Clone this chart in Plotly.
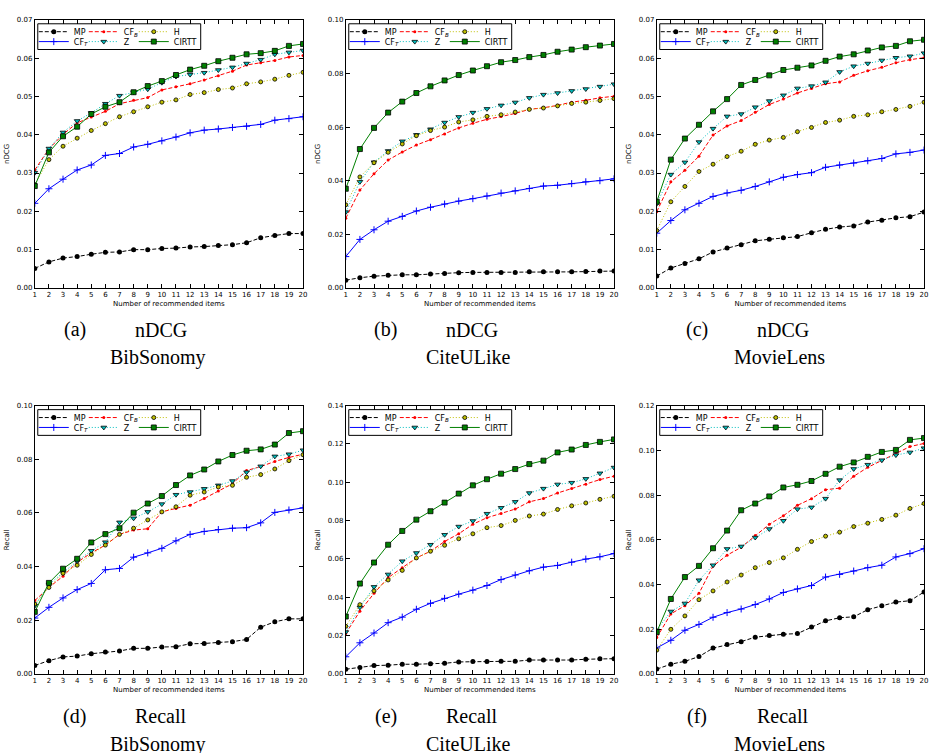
import plotly.graph_objects as go

X = list(range(1, 21))
SERIES = ["MP", "CF_T", "CF_B", "Z", "H", "CIRTT"]

# (a) nDCG BibSonomy
MP_a = [0.0051,0.0068,0.0078,0.0082,0.0088,0.0093,0.0094,0.0100,0.0100,0.0103,0.0104,0.0107,0.0108,0.0111,0.0113,0.0118,0.0131,0.0137,0.0142,0.0142]
CFT_a = [0.0221,0.0259,0.0284,0.0308,0.0321,0.0346,0.0351,0.0368,0.0375,0.0384,0.0394,0.0405,0.0412,0.0415,0.0419,0.0422,0.0427,0.0438,0.0442,0.0447]
CFB_a = [0.0308,0.0363,0.0401,0.0431,0.0446,0.0461,0.0481,0.0490,0.0497,0.0517,0.0525,0.0533,0.0543,0.0554,0.0566,0.0582,0.0588,0.0594,0.0603,0.0607]
Z_a = [0.0301,0.0364,0.0406,0.0436,0.0457,0.0481,0.0502,0.0511,0.0519,0.0536,0.0552,0.0557,0.0562,0.0569,0.0576,0.0586,0.0596,0.0610,0.0615,0.0620]
H_a = [0.0270,0.0335,0.0370,0.0391,0.0411,0.0429,0.0447,0.0460,0.0473,0.0485,0.0491,0.0505,0.0510,0.0518,0.0522,0.0533,0.0538,0.0545,0.0555,0.0563]
CIRTT_a = [0.0266,0.0354,0.0396,0.0421,0.0454,0.0473,0.0485,0.0511,0.0527,0.0540,0.0556,0.0570,0.0580,0.0592,0.0601,0.0610,0.0613,0.0619,0.0632,0.0637]

# (b) nDCG CiteULike
MP_b = [0.0029,0.0038,0.0044,0.0047,0.0049,0.0049,0.0052,0.0054,0.0057,0.0058,0.0058,0.0058,0.0058,0.0060,0.0060,0.0060,0.0060,0.0061,0.0063,0.0063]
CFT_b = [0.0117,0.0181,0.0217,0.0249,0.0267,0.0287,0.0301,0.0313,0.0324,0.0333,0.0343,0.0354,0.0362,0.0371,0.0380,0.0383,0.0389,0.0396,0.0400,0.0407]
CFB_b = [0.0260,0.0365,0.0426,0.0477,0.0507,0.0533,0.0553,0.0574,0.0597,0.0614,0.0629,0.0639,0.0651,0.0666,0.0672,0.0681,0.0693,0.0700,0.0709,0.0715]
Z_b = [0.0283,0.0396,0.0469,0.0511,0.0547,0.0571,0.0592,0.0617,0.0638,0.0654,0.0668,0.0681,0.0692,0.0709,0.0721,0.0727,0.0735,0.0742,0.0751,0.0760]
H_b = [0.0310,0.0414,0.0467,0.0506,0.0537,0.0568,0.0587,0.0600,0.0619,0.0627,0.0640,0.0646,0.0656,0.0666,0.0671,0.0679,0.0688,0.0693,0.0699,0.0706]
CIRTT_b = [0.0370,0.0518,0.0597,0.0654,0.0695,0.0727,0.0752,0.0774,0.0794,0.0811,0.0827,0.0842,0.0850,0.0861,0.0869,0.0881,0.0889,0.0898,0.0904,0.0910]

# (c) nDCG MovieLens
MP_c = [0.0031,0.0052,0.0064,0.0076,0.0094,0.0104,0.0113,0.0123,0.0127,0.0131,0.0134,0.0144,0.0153,0.0159,0.0162,0.0172,0.0177,0.0183,0.0186,0.0198]
CFT_c = [0.0143,0.0176,0.0204,0.0221,0.0239,0.0248,0.0255,0.0265,0.0277,0.0289,0.0296,0.0301,0.0315,0.0321,0.0326,0.0332,0.0338,0.0350,0.0354,0.0360]
CFB_c = [0.0199,0.0277,0.0307,0.0344,0.0399,0.0423,0.0437,0.0459,0.0479,0.0493,0.0509,0.0521,0.0533,0.0538,0.0555,0.0567,0.0576,0.0588,0.0596,0.0601]
Z_c = [0.0220,0.0296,0.0328,0.0381,0.0416,0.0448,0.0454,0.0472,0.0488,0.0503,0.0521,0.0527,0.0537,0.0564,0.0579,0.0586,0.0594,0.0601,0.0605,0.0613]
H_c = [0.0150,0.0225,0.0265,0.0304,0.0323,0.0343,0.0357,0.0375,0.0386,0.0393,0.0408,0.0419,0.0432,0.0438,0.0448,0.0452,0.0460,0.0466,0.0474,0.0485]
CIRTT_c = [0.0225,0.0335,0.0390,0.0426,0.0461,0.0493,0.0530,0.0543,0.0555,0.0569,0.0575,0.0581,0.0593,0.0604,0.0610,0.0620,0.0628,0.0632,0.0644,0.0648]

# (d) Recall BibSonomy
MP_d = [0.0031,0.0049,0.0063,0.0066,0.0075,0.0081,0.0085,0.0095,0.0095,0.0100,0.0101,0.0112,0.0113,0.0117,0.0120,0.0128,0.0174,0.0194,0.0205,0.0205]
CFT_d = [0.0208,0.0248,0.0283,0.0314,0.0337,0.0388,0.0393,0.0435,0.0451,0.0468,0.0496,0.0520,0.0531,0.0538,0.0543,0.0545,0.0563,0.0602,0.0611,0.0619]
CFB_d = [0.0273,0.0322,0.0364,0.0416,0.0451,0.0480,0.0520,0.0536,0.0541,0.0604,0.0617,0.0629,0.0654,0.0682,0.0709,0.0758,0.0773,0.0792,0.0807,0.0819]
Z_d = [0.0254,0.0334,0.0377,0.0420,0.0459,0.0491,0.0565,0.0580,0.0604,0.0633,0.0668,0.0678,0.0690,0.0703,0.0719,0.0752,0.0774,0.0811,0.0819,0.0834]
H_d = [0.0260,0.0322,0.0375,0.0405,0.0445,0.0480,0.0520,0.0543,0.0574,0.0604,0.0623,0.0666,0.0678,0.0697,0.0703,0.0733,0.0743,0.0764,0.0795,0.0817]
CIRTT_d = [0.0231,0.0339,0.0392,0.0429,0.0490,0.0521,0.0543,0.0601,0.0635,0.0663,0.0704,0.0740,0.0762,0.0792,0.0816,0.0832,0.0837,0.0855,0.0898,0.0905]

# (e) Recall CiteULike
MP_e = [0.0024,0.0033,0.0043,0.0045,0.0050,0.0050,0.0052,0.0055,0.0062,0.0064,0.0064,0.0065,0.0065,0.0072,0.0072,0.0072,0.0072,0.0076,0.0079,0.0079]
CFT_e = [0.0089,0.0162,0.0213,0.0267,0.0296,0.0337,0.0368,0.0394,0.0416,0.0437,0.0461,0.0492,0.0516,0.0538,0.0557,0.0566,0.0583,0.0599,0.0611,0.0628]
CFB_e = [0.0210,0.0327,0.0420,0.0502,0.0554,0.0605,0.0640,0.0691,0.0731,0.0781,0.0815,0.0837,0.0860,0.0898,0.0915,0.0944,0.0968,0.0990,0.1014,0.1032]
Z_e = [0.0218,0.0347,0.0454,0.0519,0.0588,0.0631,0.0674,0.0726,0.0769,0.0798,0.0836,0.0867,0.0898,0.0944,0.0967,0.0989,0.0998,0.1018,0.1047,0.1077]
H_e = [0.0248,0.0361,0.0433,0.0490,0.0540,0.0605,0.0640,0.0671,0.0705,0.0731,0.0763,0.0774,0.0801,0.0824,0.0834,0.0858,0.0877,0.0892,0.0911,0.0927]
CIRTT_e = [0.0299,0.0471,0.0581,0.0674,0.0746,0.0805,0.0849,0.0894,0.0941,0.0984,0.1016,0.1045,0.1069,0.1095,0.1113,0.1156,0.1171,0.1195,0.1211,0.1224]

# (f) Recall MovieLens
MP_f = [0.0021,0.0043,0.0056,0.0077,0.0115,0.0131,0.0144,0.0164,0.0171,0.0177,0.0180,0.0209,0.0237,0.0251,0.0255,0.0287,0.0305,0.0321,0.0327,0.0366]
CFT_f = [0.0116,0.0150,0.0195,0.0221,0.0253,0.0274,0.0290,0.0310,0.0335,0.0364,0.0380,0.0395,0.0433,0.0445,0.0460,0.0475,0.0486,0.0523,0.0538,0.0560]
CFB_f = [0.0162,0.0268,0.0305,0.0360,0.0482,0.0531,0.0566,0.0619,0.0669,0.0707,0.0754,0.0784,0.0824,0.0831,0.0884,0.0924,0.0954,0.0986,0.1017,0.1031]
Z_f = [0.0195,0.0279,0.0315,0.0419,0.0486,0.0559,0.0570,0.0610,0.0648,0.0685,0.0737,0.0745,0.0784,0.0867,0.0917,0.0936,0.0956,0.0979,0.0991,0.1010]
H_f = [0.0106,0.0199,0.0259,0.0332,0.0371,0.0411,0.0442,0.0475,0.0498,0.0519,0.0557,0.0592,0.0616,0.0634,0.0659,0.0674,0.0691,0.0710,0.0740,0.0762]
CIRTT_f = [0.0187,0.0335,0.0433,0.0483,0.0562,0.0641,0.0732,0.0762,0.0794,0.0834,0.0846,0.0863,0.0895,0.0927,0.0946,0.0971,0.0993,0.1002,0.1047,0.1055]

PANELS = [
    dict(data=[MP_a, CFT_a, CFB_a, Z_a, H_a, CIRTT_a], ymax=0.07, dtick=0.01, ylab="nDCG", tag="(a)", metric="nDCG", ds="BibSonomy"),
    dict(data=[MP_b, CFT_b, CFB_b, Z_b, H_b, CIRTT_b], ymax=0.10, dtick=0.02, ylab="nDCG", tag="(b)", metric="nDCG", ds="CiteULike"),
    dict(data=[MP_c, CFT_c, CFB_c, Z_c, H_c, CIRTT_c], ymax=0.07, dtick=0.01, ylab="nDCG", tag="(c)", metric="nDCG", ds="MovieLens"),
    dict(data=[MP_d, CFT_d, CFB_d, Z_d, H_d, CIRTT_d], ymax=0.10, dtick=0.02, ylab="Recall", tag="(d)", metric="Recall", ds="BibSonomy"),
    dict(data=[MP_e, CFT_e, CFB_e, Z_e, H_e, CIRTT_e], ymax=0.14, dtick=0.02, ylab="Recall", tag="(e)", metric="Recall", ds="CiteULike"),
    dict(data=[MP_f, CFT_f, CFB_f, Z_f, H_f, CIRTT_f], ymax=0.12, dtick=0.02, ylab="Recall", tag="(f)", metric="Recall", ds="MovieLens"),
]

LABELS = ["MP", "CF<sub><i>T</i></sub>", "CF<sub><i>B</i></sub>", "Z", "H", "CIRTT"]
ROW_OF = [0, 1, 0, 1, 0, 1]      # legend row of each series
LASTCOL = [False, False, False, False, True, True]

STYLES = [
    dict(line=dict(color="black", width=1, dash="4px,2px"),
         marker=dict(symbol="circle", size=5, color="black")),
    dict(line=dict(color="#0000FF", width=1),
         marker=dict(symbol="cross-thin", size=5, color="#0000FF", line=dict(color="#0000FF", width=1))),
    dict(line=dict(color="#FF0000", width=1, dash="4px,2px"),
         marker=dict(symbol="circle", size=3, color="#FF0000")),
    dict(line=dict(color="#00BFBF", width=1, dash="1px,2px"),
         marker=dict(symbol="triangle-down", size=5, color="#00BFBF", line=dict(color="black", width=0.8))),
    dict(line=dict(color="#BFBF00", width=1, dash="1px,2px"),
         marker=dict(symbol="circle", size=4, color="#BFBF00", line=dict(color="black", width=0.8))),
    dict(line=dict(color="#008000", width=1),
         marker=dict(symbol="square", size=5, color="#008000", line=dict(color="black", width=0.8))),
]

W, Hh = 933, 753
COL_L = [33, 346, 659]
COL_R = [303, 616, 928]
ROW_T = [16, 406]
ROW_B = [287, 677]

def px_x(p):
    return p / W

def px_y(p):
    return 1 - p / Hh

fig = go.Figure()
layout = dict(width=W, height=Hh, margin=dict(l=0, r=0, t=0, b=0),
              paper_bgcolor="white", plot_bgcolor="white", showlegend=True,
              font=dict(family="DejaVu Sans", color="black", size=7))
shapes, annotations = [], []

for i, p in enumerate(PANELS):
    r, c = divmod(i, 3)
    ax = "" if i == 0 else str(i + 1)
    xl, xr, yt, yb = COL_L[c], COL_R[c], ROW_T[r], ROW_B[r]
    leg1 = "legend" if i == 0 else f"legend{2 * i + 1}"
    leg2 = f"legend{2 * i + 2}"
    for k, ys in enumerate(p["data"]):
        extra = dict(legendwidth=40) if LASTCOL[k] else {}
        fig.add_trace(go.Scatter(
            x=X, y=ys, mode="lines+markers", name=LABELS[k],
            xaxis="x" + ax, yaxis="y" + ax,
            legend=leg1 if ROW_OF[k] == 0 else leg2,
            **extra, **STYLES[k]))
    common = dict(showline=True, linecolor="black", linewidth=1, mirror="allticks",
                  ticks="inside", ticklen=4, tickcolor="black", showgrid=False,
                  zeroline=False, tickfont=dict(size=7, color="black"))
    layout["xaxis" + ax] = dict(domain=[px_x(xl), px_x(xr)], anchor="y" + ax,
                                range=[1, 20], dtick=1, tick0=1,
                                title=dict(text="Number of recommended items", font=dict(size=7), standoff=2),
                                **common)
    layout["yaxis" + ax] = dict(domain=[px_y(yb), px_y(yt)], anchor="x" + ax,
                                range=[0, p["ymax"]], dtick=p["dtick"], tickformat=".2f",
                                title=dict(text=p["ylab"], font=dict(size=7), standoff=6),
                                **common)
    # legends (two rows)
    bl = xl + 3
    bt = yt + 4
    for j, lg in enumerate([leg1, leg2]):
        layout[lg] = dict(x=px_x(bl - 4), xanchor="left", y=px_y(bt + 8 + 10 * j), yanchor="middle",
                          orientation="h", entrywidth=5, entrywidthmode="pixels",
                          bgcolor="rgba(0,0,0,0)", borderwidth=0,
                          font=dict(size=8, family="DejaVu Sans", color="black"),
                          itemwidth=30, tracegroupgap=0)
    shapes.append(dict(type="rect", xref="paper", yref="paper",
                       x0=px_x(bl), x1=px_x(bl + 164), y0=px_y(bt + 26), y1=px_y(bt),
                       line=dict(color="black", width=1), fillcolor="rgba(0,0,0,0)"))
    # captions
    cy1 = 329 if r == 0 else 720
    cy2 = 357 if r == 0 else 748
    serif = dict(family="Liberation Serif", size=20, color="black")
    annotations.append(dict(text=p["tag"], x=px_x(xl + 40), y=px_y(cy1), xref="paper", yref="paper",
                            showarrow=False, font=serif, xanchor="center", yanchor="middle"))
    annotations.append(dict(text=p["metric"], x=px_x(xl + 127), y=px_y(cy1), xref="paper", yref="paper",
                            showarrow=False, font=serif, xanchor="center", yanchor="middle"))
    annotations.append(dict(text=p["ds"], x=px_x(xl + 124), y=px_y(cy2), xref="paper", yref="paper",
                            showarrow=False, font=serif, xanchor="center", yanchor="middle"))

layout["shapes"] = shapes
layout["annotations"] = annotations
fig.update_layout(**layout)
fig.write_html("out.html", config={"displayModeBar": False},
               post_script="document.body.style.margin='0';")
